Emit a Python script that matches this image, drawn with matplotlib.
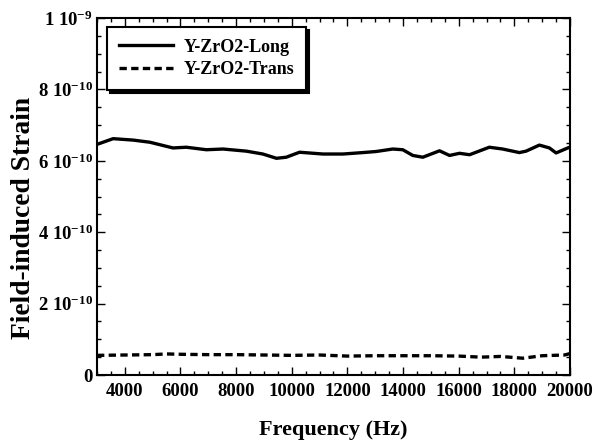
import matplotlib
matplotlib.use("Agg")
import matplotlib.pyplot as plt
from matplotlib.ticker import MultipleLocator, FixedLocator, FixedFormatter

plt.rcParams['font.family'] = ['Liberation Serif', 'DejaVu Serif']
plt.rcParams['font.weight'] = 'bold'
plt.rcParams['mathtext.fontset'] = 'custom'
plt.rcParams['mathtext.rm'] = 'Liberation Serif:bold'
plt.rcParams['mathtext.it'] = 'Liberation Serif:bold'
plt.rcParams['mathtext.bf'] = 'Liberation Serif:bold'
plt.rcParams['mathtext.default'] = 'rm'

# Data (strain in units of 1e-10)
long_freq = [3000, 3580, 4300, 4900, 5730, 6210, 6930, 7530, 8370, 8960, 9450, 9800,
             10280, 11120, 11840, 12550, 13030, 13630, 13990, 14350, 14710, 15310,
             15670, 16030, 16390, 17100, 17580, 18180, 18420, 18900, 19260, 19500, 19920, 20000]
long_val = [6.46, 6.62, 6.58, 6.52, 6.36, 6.38, 6.31, 6.33, 6.27, 6.19, 6.07, 6.10,
            6.24, 6.19, 6.19, 6.23, 6.26, 6.33, 6.31, 6.15, 6.10, 6.28,
            6.15, 6.21, 6.17, 6.38, 6.33, 6.23, 6.27, 6.44, 6.36, 6.22, 6.36, 6.38]

trans_freq = [3000, 4000, 5000, 5500, 6000, 7000, 8000, 9000, 10000, 11000, 12000,
              13000, 14000, 15000, 16000, 16800, 17500, 18300, 19000, 19800, 20000]
trans_val = [0.55, 0.56, 0.57, 0.59, 0.58, 0.57, 0.57, 0.56, 0.55, 0.56, 0.53,
             0.54, 0.54, 0.54, 0.53, 0.50, 0.52, 0.47, 0.54, 0.56, 0.60]

series_names = ["Y-ZrO2-Long", "Y-ZrO2-Trans"]
ytick_vals = [0, 2e-10, 4e-10, 6e-10, 8e-10, 1e-9]
ytick_labels = ["0", "2 10$^{-10}$", "4 10$^{-10}$", "6 10$^{-10}$", "8 10$^{-10}$", "1 10$^{-9}$"]

fig = plt.figure(figsize=(6.05, 4.44), dpi=100)
ax = fig.add_axes([97/605, 1-375/444, (570-97)/605, (375-18)/444])

ax.plot(long_freq, [v*1e-10 for v in long_val], color='black', lw=2.4,
        label=series_names[0])
ax.plot(trans_freq, [v*1e-10 for v in trans_val], color='black', lw=2.4,
        linestyle=(0, (2.2, 1.3)), label=series_names[1])

ax.set_xlim(3000, 20000)
ax.set_ylim(0, 1e-9)
ax.xaxis.set_major_locator(MultipleLocator(2000))
ax.xaxis.set_minor_locator(MultipleLocator(500))
ax.yaxis.set_major_locator(FixedLocator(ytick_vals))
ax.yaxis.set_major_formatter(FixedFormatter(ytick_labels))
ax.yaxis.set_minor_locator(MultipleLocator(0.5e-10))

ax.tick_params(which='both', direction='in', top=True, right=True, width=1.0)
ax.tick_params(which='major', length=6, labelsize=13.5)
ax.tick_params(axis='x', which='major', pad=6)
ax.tick_params(axis='y', which='major', pad=3)
ax.tick_params(which='minor', length=3)
for s in ax.spines.values():
    s.set_linewidth(1.5)

ax.set_xlabel("Frequency (Hz)", fontsize=16, fontweight='bold', labelpad=14)
ax.set_ylabel("Field-induced Strain", fontsize=19.8, fontweight='bold')
ax.yaxis.set_label_coords(-0.13, 0.44)

leg = ax.legend(loc='upper left', bbox_to_anchor=(0.021, 0.975), fontsize=13,
                handlelength=3.0, handletextpad=0.6, frameon=True, fancybox=False,
                shadow={'facecolor': 'black', 'edgecolor': 'black', 'alpha': 1},
                borderaxespad=0, borderpad=0.65, labelspacing=0.3)
leg.get_frame().set_edgecolor('black')
leg.get_frame().set_linewidth(1.5)
leg.get_frame().set_alpha(1)

fig.savefig("out.png", dpi=100)
